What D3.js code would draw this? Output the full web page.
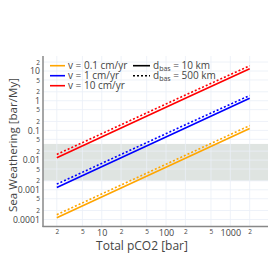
<!DOCTYPE html>
<html><head><meta charset="utf-8">
<script src="https://cdn.jsdelivr.net/npm/d3@7"></script>
<style>body{margin:0;background:#fff}svg{display:block}text{font-family:"Open Sans",sans-serif}</style>
</head><body><svg id="c" width="269" height="253"></svg>
<script>
// ---- data ----
const pco2 = [2, 20, 200, 2000];
const orange10 = [0.000115, 0.00115, 0.0115, 0.115];
const orange500 = [0.000145, 0.00145, 0.0145, 0.145];
const blue10 = [0.0012, 0.012, 0.12, 1.2];
const blue500 = [0.00155, 0.0155, 0.155, 1.5];
const red10 = [0.012, 0.12, 1.2, 12];
const red500 = [0.0155, 0.155, 1.55, 15];
const bandRange = [0.002, 0.035];
const xMajorTicks = [10, 100, 1000];
const xMajorLabels = ["10", "100", "1000"];
const xMinorTicks = [2, 5, 20, 50, 200, 500, 2000];
const yMajorTicks = [0.0001, 0.001, 0.01, 0.1, 1, 10];
const yMajorLabels = ["0.0001", "0.001", "0.01", "0.1", "1", "10"];
const yMinorTicks = [0.0002, 0.0005, 0.002, 0.005, 0.02, 0.05, 0.2, 0.5, 2, 5, 20];
const vLabels = ["v = 0.1 cm/yr", "v = 1 cm/yr", "v = 10 cm/yr"];
const vColors = ["#FFA500", "#0000FF", "#FF0000"];
const dLabels = [["10 km"], ["500 km"]];
const xTitle = "Total pCO2 [bar]";
const yTitle = "Sea Weathering [bar/My]";

const series = [
  {vals: orange10, color: vColors[0], dash: null},
  {vals: orange500, color: vColors[0], dash: "2,2"},
  {vals: blue10, color: vColors[1], dash: null},
  {vals: blue500, color: vColors[1], dash: "2,2"},
  {vals: red10, color: vColors[2], dash: null},
  {vals: red500, color: vColors[2], dash: "2,2"}
];

// ---- layout ----
const L = 43, R = 268, T = 56, B = 226.5;
const svg = d3.select("#c");
const x = d3.scaleLog().domain([1.22, 3855]).range([L, R]);
const y = d3.scaleLog().domain([5.8e-5, 32]).range([B, T]);
const gridColor = "#EBF0F8", txt = "#444";

// band
svg.append("rect")
  .attr("x", L).attr("width", R - L)
  .attr("y", y(bandRange[1])).attr("height", y(bandRange[0]) - y(bandRange[1]))
  .attr("fill", "#dfe4e1");

// grid
const g = svg.append("g");
g.selectAll("line.v").data(xMajorTicks.concat(xMinorTicks)).join("line")
  .attr("x1", d => x(d)).attr("x2", d => x(d)).attr("y1", T).attr("y2", B)
  .attr("stroke", gridColor).attr("stroke-width", 1).attr("opacity", 0.8);
g.selectAll("line.h").data(yMajorTicks.concat(yMinorTicks)).join("line")
  .attr("y1", d => y(d)).attr("y2", d => y(d)).attr("x1", L).attr("x2", R)
  .attr("stroke", gridColor).attr("stroke-width", 1).attr("opacity", 0.8);

// lines
const line = d3.line().x((d, i) => x(pco2[i])).y(d => y(d));
svg.selectAll("path.s").data(series).join("path")
  .attr("d", d => line(d.vals))
  .attr("fill", "none").attr("stroke", d => d.color).attr("stroke-width", 1.6)
  .attr("stroke-dasharray", d => d.dash);

// axes
function styleAxis(sel, fs) {
  sel.select(".domain").remove();
  sel.selectAll("line").remove();
  sel.selectAll("text").attr("fill", txt).style("font-size", fs + "px").style("font-family", '"Open Sans",sans-serif');
}
svg.append("g").attr("transform", `translate(${L},0)`)
  .call(d3.axisLeft(y).tickValues(yMajorTicks).tickFormat((d, i) => yMajorLabels[i]).tickSize(0).tickPadding(3))
  .call(s => styleAxis(s, 8.7));
svg.append("g").attr("transform", `translate(${L},0)`)
  .call(d3.axisLeft(y).tickValues(yMinorTicks).tickFormat(d => String(d).replace(/0\.0*/, "")[0]).tickSize(0).tickPadding(3))
  .call(s => styleAxis(s, 6.5));
svg.append("g").attr("transform", `translate(0,${B})`)
  .call(d3.axisBottom(x).tickValues(xMajorTicks).tickFormat((d, i) => xMajorLabels[i]).tickSize(0).tickPadding(3))
  .call(s => styleAxis(s, 9));
svg.append("g").attr("transform", `translate(0,${B})`)
  .call(d3.axisBottom(x).tickValues(xMinorTicks).tickFormat(d => String(d)[0]).tickSize(0).tickPadding(3))
  .call(s => styleAxis(s, 6.5));

// axis lines
svg.append("line").attr("x1", L).attr("x2", L).attr("y1", T).attr("y2", B + 0.5)
  .attr("stroke", "#888").attr("stroke-width", 1.5);
svg.append("line").attr("x1", L - 0.5).attr("x2", R).attr("y1", B).attr("y2", B)
  .attr("stroke", "#888").attr("stroke-width", 1.5);

// titles
svg.append("text").attr("x", 142).attr("y", 250).attr("text-anchor", "middle")
  .attr("fill", txt).style("font-size", "12px").text(xTitle);
svg.append("text").attr("transform", `translate(17,145) rotate(-90)`)
  .attr("text-anchor", "middle").attr("fill", txt).style("font-size", "11.6px").text(yTitle);

// legend
const lg = svg.append("g");
vLabels.forEach((t, i) => {
  const yy = 65.7 + i * 10;
  lg.append("line").attr("x1", 50).attr("x2", 65).attr("y1", yy).attr("y2", yy)
    .attr("stroke", vColors[i]).attr("stroke-width", 1.6);
  lg.append("text").attr("x", 68).attr("y", yy + 3.5).attr("fill", txt)
    .style("font-size", "10px").text(t);
});
dLabels.forEach((t, i) => {
  const yy = 65.7 + i * 10;
  lg.append("line").attr("x1", 133).attr("x2", 150).attr("y1", yy).attr("y2", yy)
    .attr("stroke", "#000").attr("stroke-width", 1.6).attr("stroke-dasharray", i ? "2,2" : null);
  const tx = lg.append("text").attr("x", 153).attr("y", yy + 3.5).attr("fill", txt).style("font-size", "10px");
  tx.append("tspan").text("d");
  tx.append("tspan").attr("dy", 2).style("font-size", "7px").text("bas");
  tx.append("tspan").attr("dy", -2).text(" = " + t[0]);
});
</script></body></html>
